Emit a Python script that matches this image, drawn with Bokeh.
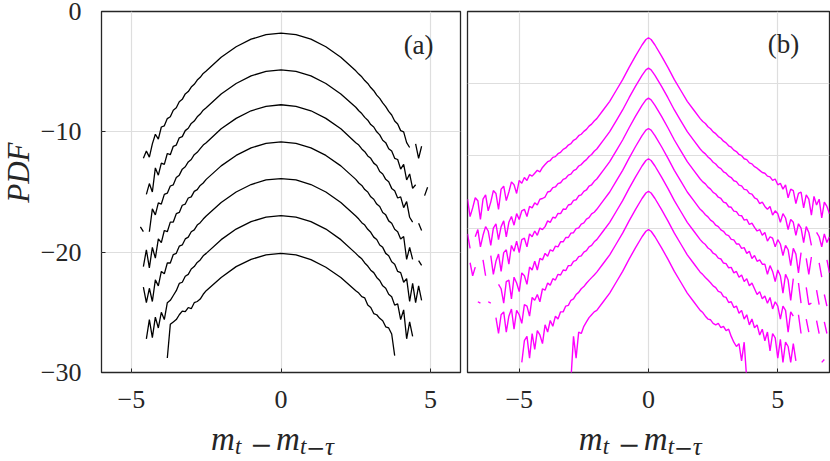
import math
from bokeh.plotting import figure
from bokeh.models import Label, FixedTicker, Range1d
from bokeh.layouts import row, column
from bokeh.embed import file_html
from bokeh.resources import INLINE

nan = float("nan")

# ---------------- panel (a): x grid and 7 curves ----------------
a_x = [-4.9, -4.8, -4.7, -4.6, -4.5, -4.4, -4.3, -4.2, -4.1, -4.0, -3.9, -3.8, -3.7,
       -3.6, -3.5, -3.4, -3.3, -3.2, -3.1, -3.0, -2.9, -2.8, -2.7, -2.6, -2.5,
       -2.0, -1.5, -1.0, -0.5, 0.0, 0.5, 1.0, 1.5, 2.0,
       2.5, 2.6, 2.7, 2.8, 2.9, 3.0, 3.1, 3.2, 3.3, 3.4, 3.5, 3.6, 3.7, 3.8, 3.9,
       4.0, 4.1, 4.2, 4.3, 4.4, 4.5, 4.6, 4.7, 4.8, 4.9]

a0 = ([nan, nan, nan, -12.2, -11.6, -12.1, -11.0, -10.2, -10.6, -9.6, -9.5, -8.9, -8.75,
       -8.2, -8.0, -7.5, -7.3, -6.85, -6.65, -6.28, -6.05, -5.7, -5.47, -5.15, -4.95]
      + [-3.8, -2.93, -2.3, -1.93, -1.8, -1.93, -2.3, -2.93, -3.8]
      + [-4.93, -5.2, -5.43, -5.74, -5.98, -6.32, -6.58, -6.95, -7.22, -7.6, -7.9, -8.3, -8.6,
         -9.1, -9.35, -9.9, -10.0, -10.9, -11.3, nan, -11.0, -12.2, -11.2, nan, nan])
a1 = ([nan, nan, nan, nan, -15.2, -14.3, -15.0, -13.0, -13.6, -12.6, -12.7, -11.8, -11.9,
       -11.2, -11.1, -10.5, -10.4, -9.9, -9.7, -9.3, -9.1, -8.75, -8.52, -8.2, -8.0]
      + [-6.85, -5.98, -5.35, -4.98, -4.85, -4.98, -5.35, -5.98, -6.85]
      + [-7.96, -8.25, -8.48, -8.8, -9.03, -9.4, -9.6, -10.0, -10.25, -10.7, -10.9, -11.4, -11.6,
         -12.2, -12.3, -13.1, -12.7, -14.0, -13.5, -14.7, -14.4, nan, nan, -15.3, -14.6])
a2 = ([nan, nan, -17.9, -18.3, nan, -18.3, -16.4, -16.9, -15.9, -16.0, -15.2, -15.1, -14.5,
       -14.4, -13.8, -13.6, -13.1, -12.9, -12.5, -12.3, -11.9, -11.7, -11.4, -11.1, -10.9]
      + [-9.75, -8.88, -8.25, -7.88, -7.75, -7.88, -8.25, -8.88, -9.75]
      + [-10.9, -11.1, -11.42, -11.65, -12.0, -12.2, -12.6, -12.8, -13.3, -13.5, -13.95, -14.15, -14.7,
         -14.9, -15.5, -15.4, -16.3, -15.8, -17.1, -17.5, nan, -17.6, -18.2, nan, nan])
a3 = ([nan, nan, nan, -21.2, -19.8, -21.3, -19.6, -20.5, -18.9, -19.2, -18.2, -18.3, -17.5,
       -17.5, -16.8, -16.7, -16.1, -16.0, -15.5, -15.4, -14.95, -14.8, -14.45, -14.25, -13.95]
      + [-12.83, -11.96, -11.33, -10.96, -10.83, -10.96, -11.33, -11.96, -12.83]
      + [-13.95, -14.25, -14.45, -14.8, -15.0, -15.4, -15.6, -16.0, -16.2, -16.7, -16.9, -17.4, -17.6,
         -18.1, -18.3, -18.9, -18.7, -20.6, -19.6, -20.6, nan, -20.7, -21.1, nan, nan])
a4 = ([nan, nan, nan, -22.9, -24.2, -23.0, -24.1, -22.3, -22.8, -21.6, -21.8, -20.9, -20.9,
       -20.2, -20.1, -19.5, -19.4, -18.9, -18.75, -18.3, -18.15, -17.75, -17.55, -17.25, -17.0]
      + [-15.88, -15.0, -14.38, -14.0, -13.88, -14.0, -14.38, -15.0, -15.88]
      + [-17.0, -17.25, -17.55, -17.75, -18.1, -18.35, -18.75, -18.95, -19.4, -19.6, -20.1, -20.3, -20.8,
         -21.0, -21.6, -21.7, -22.5, -22.2, -24.1, -22.6, -24.2, -22.8, -24.0, nan, nan])
a5 = ([nan, nan, nan, nan, -27.2, -25.6, -27.1, -25.4, -26.3, -25.0, -25.6, -24.2, -24.0,
       -23.6, -23.2, -22.6, -22.5, -22.0, -21.85, -21.4, -21.2, -20.85, -20.65, -20.3, -20.1]
      + [-18.96, -18.08, -17.46, -17.08, -16.96, -17.08, -17.46, -18.08, -18.96]
      + [-20.1, -20.35, -20.55, -20.9, -21.15, -21.5, -21.7, -22.1, -22.35, -22.8, -23.0, -23.5, -23.7,
         -24.4, -24.3, -25.6, -24.8, -27.2, -25.8, -27.0, nan, nan, nan, nan, nan])
a6 = ([nan] * 11
      + [-28.8, -26.0, -25.8, -25.6, -25.2, -24.9, -24.95, -24.6, -24.7, -24.2, -24.1, -23.9, -23.5, -23.2]
      + [-22.1, -21.2, -20.6, -20.22, -20.1, -20.22, -20.62, -21.25, -22.1]
      + [-23.2, -23.4, -23.7, -23.8, -24.4, -24.6, -25.1, -25.2, -25.5, -25.7, -26.2, -26.3, -26.8, -28.6]
      + [nan] * 11)

# ---------------- panel (b): x grid and 7 curves ----------------
b_x = [-7.0, -6.9, -6.8, -6.7, -6.6, -6.5, -6.4, -6.3, -6.2, -6.1,
       -6.0, -5.9, -5.8, -5.7, -5.6, -5.5, -5.4, -5.3, -5.2, -5.1,
       -5.0, -4.9, -4.8, -4.7, -4.6, -4.5, -4.4, -4.3, -4.2, -4.1,
       -4.0, -3.9, -3.8, -3.7, -3.6, -3.5, -3.4, -3.3, -3.2, -3.1,
       -3.0, -2.9, -2.8, -2.7, -2.6, -2.5, -2.4, -2.3, -2.2, -2.1,
       -2.0, -1.75, -1.5, -1.25, -1.0, -0.75, -0.5, -0.25, -0.1, 0.0,
       0.1, 0.25, 0.5, 0.75, 1.0, 1.25, 1.5, 1.75, 2.0,
       2.1, 2.2, 2.3, 2.4, 2.5, 2.6, 2.7, 2.8, 2.9, 3.0,
       3.1, 3.2, 3.3, 3.4, 3.5, 3.6, 3.7, 3.8, 3.9, 4.0,
       4.1, 4.2, 4.3, 4.4, 4.5, 4.6, 4.7, 4.8, 4.9, 5.0,
       5.1, 5.2, 5.3, 5.4, 5.5, 5.6, 5.7, 5.8, 5.9, 6.0,
       6.1, 6.2, 6.3, 6.4, 6.5, 6.6, 6.7, 6.8, 6.9, 7.0]

b0 = ([-13.0, -14.2, -13.6, -12.9, -13.1, -14.4, -13.0, -12.7, -13.8, -13.2,
       -12.4, -12.6, -13.7, -12.3, -12.1, -13.1, -12.5, -11.8, -12.0, -12.6,
       -11.7, -11.9, -11.5, -11.7, -11.3, -11.4, -11.2, -11.0, -11.1, -10.8,
       -10.6, -10.4, -10.32, -10.1, -10.05, -9.85, -9.75, -9.55, -9.45, -9.25,
       -9.15, -8.92, -8.82, -8.6, -8.5, -8.3, -8.16, -7.94, -7.8, -7.58]
      + [-7.42, -6.82, -6.22, -5.47, -4.72, -3.87, -3.07, -2.32, -1.94, -1.82,
         -1.94, -2.32, -3.07, -3.87, -4.72, -5.47, -6.22, -6.82, -7.42]
      + [-7.62, -7.76, -7.98, -8.12, -8.34, -8.46, -8.66, -8.78, -8.98, -9.1,
         -9.3, -9.4, -9.6, -9.7, -9.9, -9.98, -10.2, -10.26, -10.48, -10.55,
         -10.75, -10.85, -11.0, -11.15, -11.2, -11.4, -11.45, -11.7, -11.6, -12.0,
         -11.9, -12.3, -12.0, -12.9, -12.3, -12.4, -13.3, -12.6, -12.5, -13.6,
         -12.7, -13.0, -14.1, -12.8, -13.4, -13.0, -14.3, -13.2, -13.5, -14.0])
b1 = ([-15.4, -16.4, nan, -15.6, -15.1, -16.3, -15.5, -14.9, -15.2, -16.2,
       -15.0, -14.7, -15.8, -14.9, -14.5, -15.6, -14.6, -14.2, -14.8, -14.0,
       -14.4, -13.8, -13.7, -14.2, -13.5, -13.6, -13.25, -13.4, -13.0, -12.95,
       -12.85, -12.5, -12.45, -12.2, -12.15, -11.92, -11.86, -11.63, -11.55, -11.33,
       -11.26, -11.02, -10.93, -10.7, -10.6, -10.4, -10.26, -10.04, -9.9, -9.68]
      + [-9.52, -8.92, -8.32, -7.57, -6.82, -5.97, -5.17, -4.42, -4.04, -3.92,
         -4.04, -4.42, -5.17, -5.97, -6.82, -7.57, -8.32, -8.92, -9.52]
      + [-9.72, -9.86, -10.08, -10.22, -10.44, -10.56, -10.78, -10.88, -11.1, -11.2,
         -11.4, -11.5, -11.72, -11.78, -12.02, -12.08, -12.32, -12.35, -12.6, -12.65,
         -12.9, -13.0, -13.3, -13.2, -13.5, -13.7, -13.5, -14.1, -13.8, -14.0,
         -14.6, -14.0, -14.3, -15.1, -14.4, -14.6, -15.5, -14.7, -15.0, -16.0,
         -14.9, -15.3, -16.2, nan, -15.3, -15.6, -16.3, -15.4, -16.0, -15.6])
b2 = ([nan, -17.4, -18.3, -17.7, nan, nan, -17.2, -18.3, nan, -16.9,
       -18.2, -17.3, -16.8, -18.0, -16.7, -16.5, -17.5, -16.2, -16.6, -15.9,
       -16.7, -15.8, -15.7, -16.3, -15.4, -15.6, -15.2, -15.5, -15.0, -15.1,
       -14.9, -14.5, -14.6, -14.25, -14.3, -13.98, -14.0, -13.68, -13.7, -13.4,
       -13.35, -13.08, -13.04, -12.76, -12.7, -12.46, -12.36, -12.1, -12.0, -11.76]
      + [-11.6, -11.0, -10.4, -9.65, -8.9, -8.05, -7.25, -6.5, -6.12, -6.0,
         -6.12, -6.5, -7.25, -8.05, -8.9, -9.65, -10.4, -11.0, -11.6]
      + [-11.8, -11.94, -12.16, -12.3, -12.53, -12.64, -12.86, -12.95, -13.2, -13.26,
         -13.52, -13.56, -13.82, -13.86, -14.12, -14.14, -14.45, -14.4, -14.75, -14.65,
         -14.95, -15.2, -15.1, -15.5, -15.3, -15.9, -15.6, -15.7, -16.3, -15.8,
         -16.1, -16.9, -16.2, -16.5, -17.6, -16.4, -16.8, -18.1, -16.7, nan,
         -17.1, -18.2, -17.0, nan, nan, -17.4, -18.4, nan, -17.2, -18.1])
b3 = ([nan, nan, nan, nan, -20.1, -20.2, nan, nan, -20.1, -20.2,
       nan, nan, -18.9, -19.2, -20.2, -18.7, -18.6, -19.9, -18.4, -18.8,
       -19.4, -18.1, -18.3, -18.9, -17.7, -17.9, -17.3, -17.9, -17.1, -17.2,
       -16.75, -16.95, -16.5, -16.6, -16.25, -16.3, -15.95, -15.95, -15.65, -15.65,
       -15.35, -15.32, -15.04, -14.98, -14.72, -14.64, -14.38, -14.28, -14.02, -13.9]
      + [-13.7, -13.1, -12.5, -11.75, -11.0, -10.15, -9.35, -8.6, -8.22, -8.1,
         -8.22, -8.6, -9.35, -10.15, -11.0, -11.75, -12.5, -13.1, -13.7]
      + [-13.86, -14.08, -14.22, -14.45, -14.57, -14.8, -14.9, -15.12, -15.22, -15.45,
         -15.52, -15.78, -15.82, -16.1, -16.1, -16.4, -16.35, -16.75, -16.6, -17.1,
         -16.9, -17.3, -17.2, -17.5, -17.5, -18.2, -17.6, -18.0, -18.7, -17.9,
         -18.3, -19.5, -18.2, -18.6, -20.0, -18.5, nan, -18.8, -20.2, nan,
         -19.1, -20.3, -20.2, nan, -19.3, -20.3, nan, -19.6, -20.4, nan])
b4 = ([nan] * 10
      + [nan, -21.2, -22.3, -21.0, -20.8, -22.2, -21.1, -20.6, -22.0, -20.7,
         -21.0, -21.6, -20.3, -20.4, -21.1, -19.8, -20.0, -19.6, -20.1, -19.2,
         -19.3, -18.8, -18.95, -18.5, -18.6, -18.2, -18.25, -17.9, -17.95, -17.6,
         -17.6, -17.3, -17.24, -16.98, -16.92, -16.66, -16.56, -16.3, -16.2, -15.95]
      + [-15.8, -15.2, -14.6, -13.85, -13.1, -12.25, -11.45, -10.7, -10.32, -10.2,
         -10.32, -10.7, -11.45, -12.25, -13.1, -13.85, -14.6, -15.2, -15.8]
      + [-16.0, -16.14, -16.38, -16.5, -16.74, -16.84, -17.08, -17.14, -17.42, -17.46,
         -17.75, -17.72, -18.1, -18.0, -18.4, -18.25, -18.7, -18.5, -19.0, -18.8,
         -19.2, -19.6, -19.4, -19.9, -19.7, -20.2, -19.8, -20.6, -20.1, -20.4,
         -21.3, -20.4, -20.7, -22.2, -20.8, -21.1, nan, -21.0, -22.3, nan,
         -21.3, -22.2, nan, nan, -21.4, -22.3, nan, -21.5, -22.3, nan])
b5 = ([nan] * 20
      + [nan, -24.3, -22.8, -22.5, -24.0, -22.3, -23.4, -22.1, -22.4, -23.0,
         -21.7, -22.2, -21.4, -21.8, -21.1, -21.3, -20.8, -20.8, -20.4, -20.35,
         -20.0, -19.9, -19.6, -19.45, -19.2, -19.05, -18.82, -18.62, -18.43, -18.25]
      + [-18.05, -17.45, -16.85, -16.1, -15.35, -14.5, -13.7, -12.95, -12.57, -12.45,
         -12.57, -12.95, -13.7, -14.5, -15.35, -16.1, -16.85, -17.45, -18.05]
      + [-18.22, -18.42, -18.6, -18.78, -19.0, -19.12, -19.38, -19.45, -19.75, -19.8,
         -20.15, -20.1, -20.5, -20.4, -20.9, -20.7, -21.3, -21.0, -21.7, -21.3,
         -21.9, -21.7, -22.4, -22.0, -22.8, -22.2, -23.5, -22.3, -22.6, -24.0,
         -22.7, -24.3, -22.9, -23.2, -24.3, -23.0, -24.2, nan, nan, nan,
         nan, nan, nan, nan, nan, nan, -24.3, -24.1, nan, nan])
b6 = ([nan] * 40
      + [-25.5, -22.5, -24.0, -22.2, -22.3, -21.8, -21.5, -21.2, -21.0, -20.8]
      + [-20.7, -20.1, -19.5, -18.75, -18.0, -17.15, -16.35, -15.6, -15.22, -15.1,
         -15.22, -15.6, -16.35, -17.15, -18.0, -18.75, -19.5, -20.1, -20.7]
      + [-20.85, -21.1, -21.3, -21.35, -21.6, -21.7, -21.6, -21.9, -21.8, -22.1,
         -22.0, -22.5, -22.9, -23.2, -23.0, -24.2, -22.9, -25.5, nan, nan]
      + [nan] * 30)

a_series = [a0, a1, a2, a3, a4, a5, a6]
b_series = [b0, b1, b2, b3, b4, b5, b6]

a_xticks = [-5, 0, 5]
a_yticks = [-30, -20, -10, 0]
b_xticks = [-5, 0, 5]
b_yticks = [-15, -10, -5]

SERIF = "Liberation Serif"
MINUS_FONT = "DejaVu Serif"
AXC = "#262626"
GRIDC = "#dedede"

TOTAL_W = 830
BOTTOM_BORDER = 48
PANEL_H = 11 + 361 + BOTTOM_BORDER
XLAB_H = 461 - PANEL_H
YLAB_W = 36


def lab(t):
    return "\u2212" + str(abs(t)) if t < 0 else str(t)


def style_axis(ax, ticks, standoff):
    ax.ticker = FixedTicker(ticks=ticks)
    ax.major_tick_in = 4
    ax.major_tick_out = 0
    ax.minor_tick_in = 0
    ax.minor_tick_out = 0
    ax.major_tick_line_color = AXC
    ax.major_tick_line_width = 1
    ax.axis_line_color = None
    ax.major_label_standoff = standoff
    ax.major_label_text_font = SERIF
    ax.major_label_text_color = AXC
    ax.major_label_text_font_size = "26px"
    ax.major_label_overrides = {t: lab(t) for t in ticks}


def make_panel(xr, yr, xticks, yticks, ylabels, ml, mr, fw):
    p = figure(frame_width=fw, frame_height=361,
               x_range=Range1d(*xr), y_range=Range1d(*yr),
               min_border_left=ml, min_border_right=mr,
               min_border_top=11, min_border_bottom=BOTTOM_BORDER,
               output_backend="svg", toolbar_location=None,
               background_fill_color="white", border_fill_color="white")
    p.outline_line_color = AXC
    p.outline_line_width = 1.3
    p.outline_line_alpha = 1.0
    style_axis(p.xaxis[0], xticks, 18)
    p.xgrid[0].ticker = FixedTicker(ticks=xticks)
    p.ygrid[0].ticker = FixedTicker(ticks=yticks)
    if ylabels:
        style_axis(p.yaxis[0], yticks, 20)
    else:
        p.yaxis[0].visible = False
    p.grid.grid_line_color = GRIDC
    p.grid.grid_line_width = 1.2
    return p


def strip(w, h):
    s = figure(width=w, height=h, x_range=Range1d(0, w), y_range=Range1d(0, h),
               min_border=0, x_axis_type=None, y_axis_type=None,
               output_backend="svg", toolbar_location=None,
               outline_line_color=None, background_fill_color="white",
               border_fill_color="white")
    return s


def add_xlabel(s, xc):
    base = 22.5      # anchor of the large "m", measured up from the strip bottom
    pieces = [
        ("m", -70, 0, "italic", SERIF, "33px"),
        ("t", -46, -7.0, "italic", SERIF, "23px"),
        ("\u2212", -31, -4.7, "normal", MINUS_FONT, "27px"),
        ("m", -5, 0, "italic", SERIF, "33px"),
        ("t", 19, -7.0, "italic", SERIF, "23px"),
        ("\u2212", 25, -8.5, "normal", MINUS_FONT, "23px"),
        ("\u03c4", 44, -7.0, "italic", SERIF, "25px"),
    ]
    for txt, dx, dy, style, font, size in pieces:
        s.add_layout(Label(x=xc + dx, y=base + dy, text=txt,
                           text_font=font, text_font_style=style, text_font_size=size,
                           text_align="left", text_baseline="alphabetic", text_color=AXC))


pa = make_panel((-6, 6), (-30, 0), a_xticks, a_yticks, True, 101 - YLAB_W, 4, 359)
pb = make_panel((-7, 7), (-25, 0), b_xticks, b_yticks, False, 3, 1, 362)

for ys in a_series:
    pa.line(a_x, ys, line_color="black", line_width=1.3)
for ys in b_series:
    pb.line(b_x, ys, line_color="#ff00ff", line_width=1.4)

pa.add_layout(Label(x=4.6, y=-2.75, text="(a)", text_font=SERIF, text_font_size="27px",
                    text_align="center", text_baseline="middle", text_color=AXC))
pb.add_layout(Label(x=5.22, y=-2.25, text="(b)", text_font=SERIF, text_font_size="27px",
                    text_align="center", text_baseline="middle", text_color=AXC))

ylab = strip(YLAB_W, PANEL_H)
ylab.add_layout(Label(x=18, y=PANEL_H - 187.5, text="PDF", angle=math.pi / 2,
                      text_font=SERIF, text_font_style="italic", text_font_size="31px",
                      text_align="center", text_baseline="middle", text_color=AXC))

xlab = strip(TOTAL_W, XLAB_H)
add_xlabel(xlab, 280.5)
add_xlabel(xlab, 648.3)

layout = column(row(ylab, pa, pb), xlab)
open("out.html", "w").write(file_html(layout, INLINE))
